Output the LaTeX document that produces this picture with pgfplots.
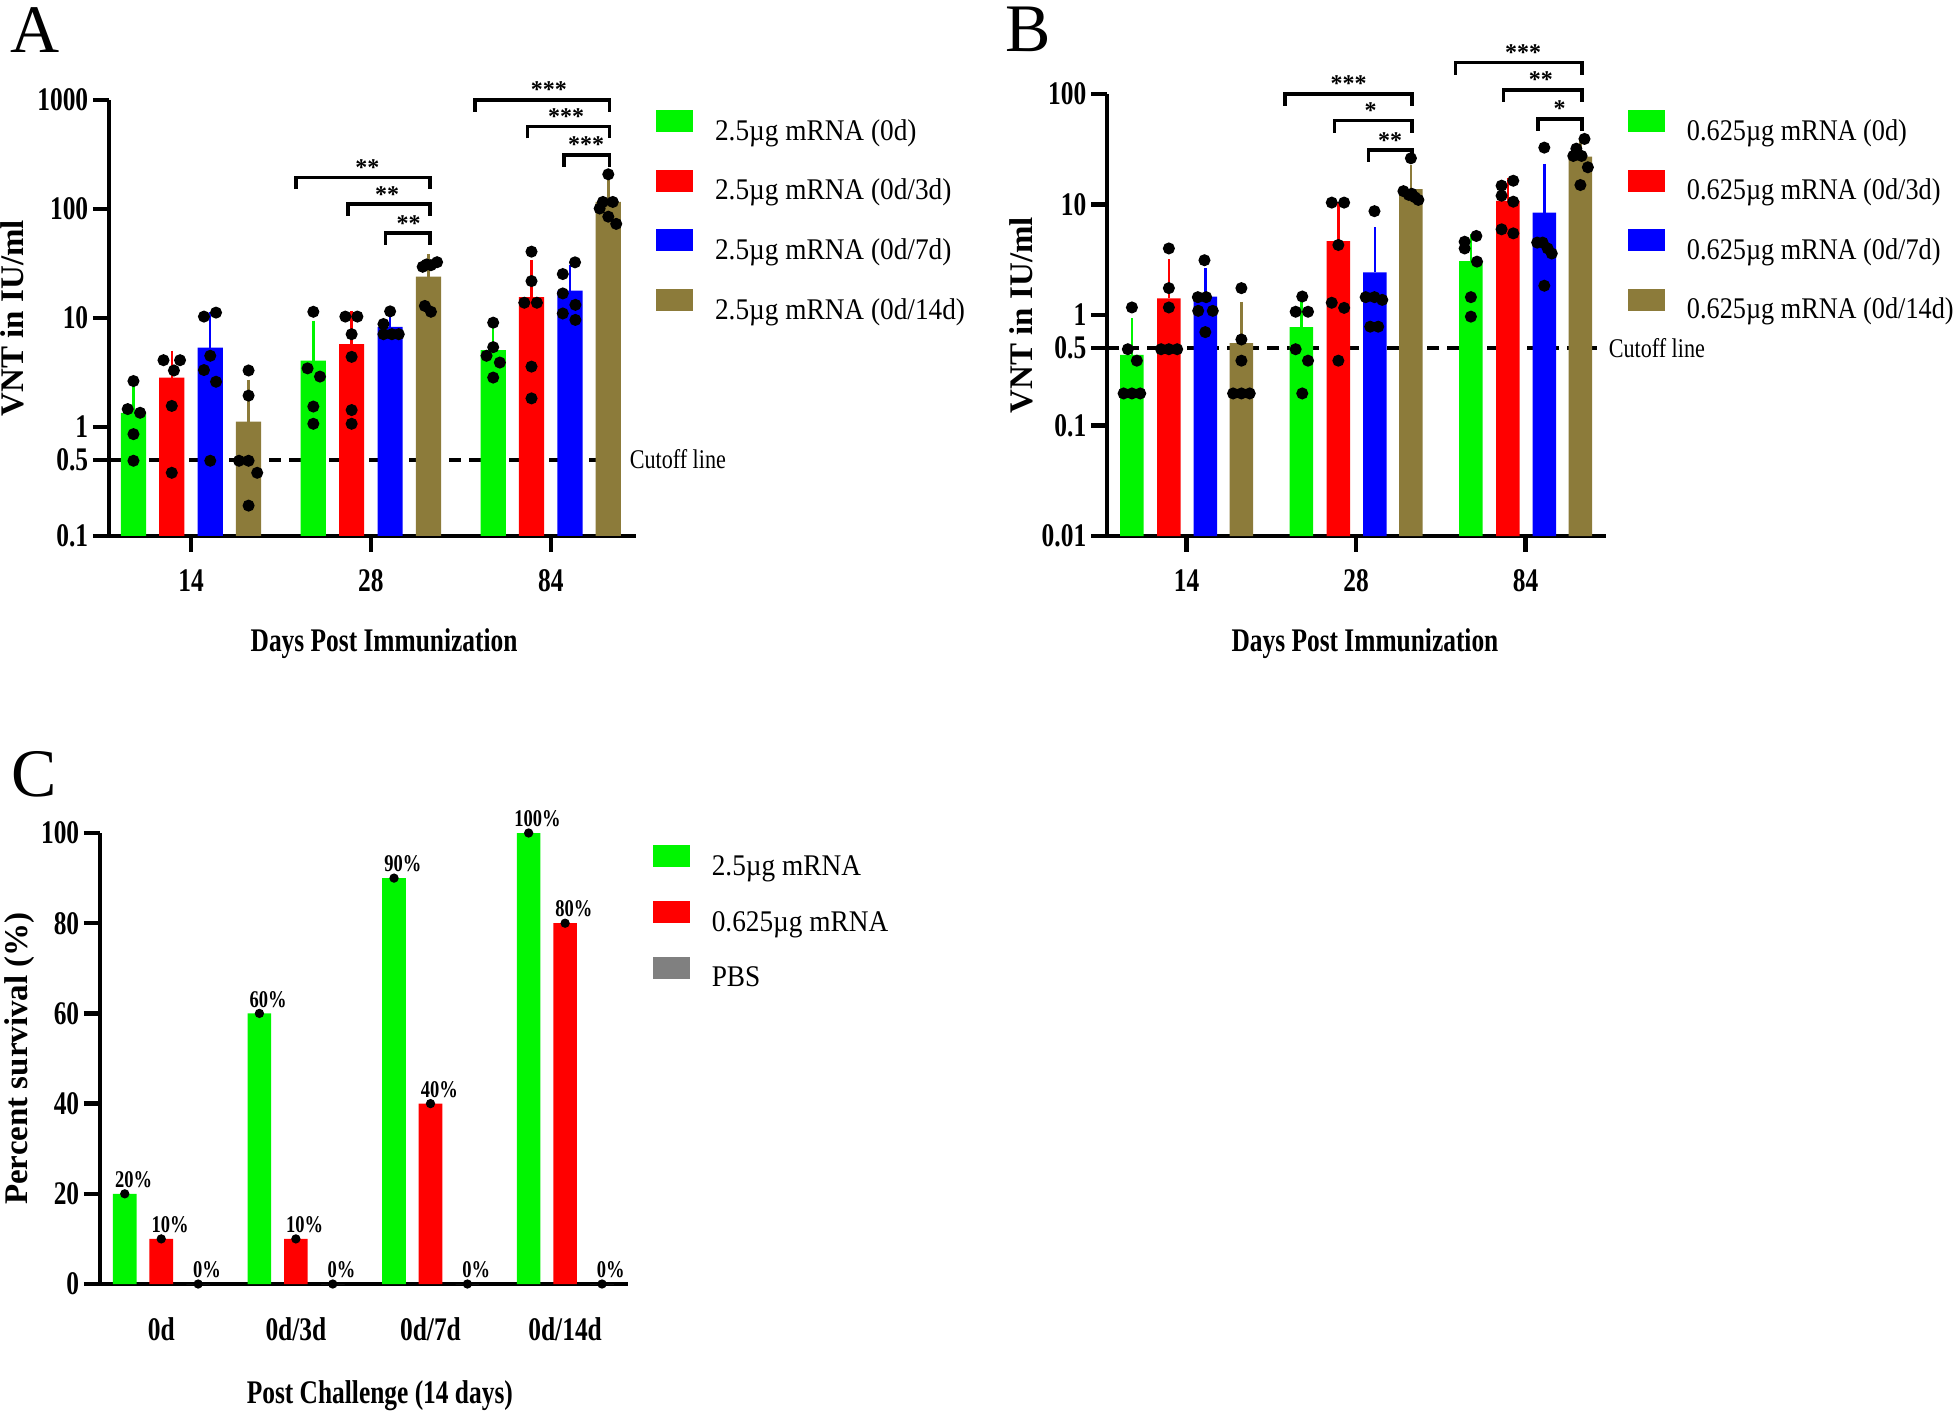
\documentclass[border=0pt]{standalone}
\usepackage{fontspec}
\setmainfont{Liberation Serif}
\newfontfamily\condfont{Liberation Serif}[FakeStretch=0.77]
\newfontfamily\legfont{Liberation Serif}[FakeStretch=0.91]
\newfontfamily\legfontB{Liberation Serif}[FakeStretch=0.875]
\newfontfamily\cutfont{Liberation Serif}[FakeStretch=0.82]
\usepackage{pgfplots}
\pgfplotsset{compat=1.18}
\definecolor{cgreen}{RGB}{0,245,0}
\definecolor{cred}{RGB}{255,0,0}
\definecolor{cblue}{RGB}{0,0,255}
\definecolor{cbrown}{RGB}{140,123,58}
\definecolor{cgray}{RGB}{128,128,128}
\newcommand\tickfont{\condfont\bfseries\fontsize{8.25pt}{9pt}\selectfont}
\newcommand\labfont{\condfont\bfseries\fontsize{8.25pt}{9pt}\selectfont}
\newcommand\ylabfont{\bfseries\fontsize{8.25pt}{9pt}\selectfont}
\newcommand\legendfont{\legfont\fontsize{7.5pt}{8.5pt}\selectfont}
\newcommand\legendfontB{\legfontB\fontsize{7.5pt}{8.5pt}\selectfont}
\newcommand\cutofffont{\cutfont\fontsize{6.75pt}{7.5pt}\selectfont}
\newcommand\starfont{\bfseries\fontsize{6pt}{7pt}\selectfont}
\newcommand\pctfont{\condfont\bfseries\fontsize{6pt}{7pt}\selectfont}
\newcommand\panelfont{\fontsize{17pt}{19pt}\selectfont}
\pgfplotsset{
  myaxis/.style={
    scale only axis, anchor=south west,
    axis x line*=bottom, axis y line*=left,
    axis line style={line width=1.1pt},
    tick style={line width=1.1pt, black},
    major tick length=4pt,
    tick align=outside,
    xminorticks=false, yminorticks=false,
    ticklabel style={font=\tickfont},
    yticklabel style={inner sep=1pt},
    xticklabel style={anchor=north, inner sep=0pt, yshift=-4.25pt},
    clip=false,
    legend cell align=left,
    legend style={draw=none, fill=none, font=\legendfont, inner sep=0pt, outer sep=0pt,
      nodes={inner sep=0pt, text height=5.6pt, text depth=2pt},
      /tikz/every odd column/.append style={column sep=5.5pt},
      row sep=5.35pt, anchor=north west},
  },
  barbase/.style={ybar, bar shift=0pt, draw=none, fill=#1,
    legend image code/.code={\fill[#1] (0pt,0.25pt) rectangle (9.25pt,5.75pt);}},
  mybar/.style={barbase=#1,
    error bars/y dir=plus, error bars/y explicit,
    error bars/error bar style={line width=0.6pt, draw=#1},
    error bars/error mark=-,
    error bars/error mark options={line width=0.6pt, draw=#1, mark size=1.55pt}},
  dots/.style={only marks, mark=*, mark size=1.3pt, black, forget plot},
  bracket/.style={black, line width=0.9pt, forget plot, mark=none},
  cutoff/.style={black, line width=1.05pt, dash pattern=on 3pt off 2pt, forget plot, mark=none},
}
\begin{document}
\begin{tikzpicture}
\path[use as bounding box] (0,0) rectangle (490pt,353.75pt);

%================ Panel A
\begin{axis}[myaxis, at={(27.25pt,219.75pt)}, width=131.75pt, height=109pt,
  ymode=log, ymin=0.1, ymax=1000, log origin=infty,
  xmin=-0.456, xmax=2.474, bar width=0.14,
  ytick={0.1,0.5,1,10,100,1000},
  yticklabels={\mbox{0.1},\mbox{0.5},\mbox{1},\mbox{10},\mbox{100},\mbox{1000}},
  xtick={0,1,2}, xticklabels={\mbox{14},\mbox{28},\mbox{84}},
  xlabel={Days Post Immunization},
  xlabel style={font=\labfont, at={(axis description cs:0.522,-0.266)}, anchor=base},
  ylabel={VNT in IU/ml},
  ylabel style={font=\ylabfont, at={(axis description cs:-0.163,0.5)}, anchor=base},
  legend style={at={(1.038,0.9766)}},
]
\addplot[cutoff] coordinates {(-0.456,0.5) (2.42,0.5)};
\addplot[mybar=cgreen] coordinates {(-0.32,1.35) +- (0,0.8) (0.68,4.06) +- (0,4.24) (1.68,5.08) +- (0,2.42)};
\addlegendentry{2.5µg mRNA (0d)}
\addplot[mybar=cred] coordinates {(-0.107,2.84) +- (0,1.56) (0.893,5.77) +- (0,4.33) (1.893,15.5) +- (0,14.5)};
\addlegendentry{2.5µg mRNA (0d/3d)}
\addplot[mybar=cblue] coordinates {(0.107,5.35) +- (0,4.65) (1.107,8.3) +- (0,1.8) (2.107,17.8) +- (0,9.2)};
\addlegendentry{2.5µg mRNA (0d/7d)}
\addplot[mybar=cbrown] coordinates {(0.32,1.12) +- (0,1.26) (1.32,23.9) +- (0,9.9) (2.32,116) +- (0,50)};
\addlegendentry{2.5µg mRNA (0d/14d)}
% dots
\addplot[dots] coordinates {(-0.32,2.64) (-0.352,1.46) (-0.283,1.35) (-0.32,0.86) (-0.32,0.49)
  (0.68,11.4) (0.648,3.45) (0.717,2.9) (0.68,1.54) (0.68,1.07)
  (1.68,9.06) (1.68,5.4) (1.643,4.5) (1.717,3.9) (1.68,2.84)};
\addplot[dots] coordinates {(-0.153,4.1) (-0.061,4.1) (-0.095,3.3) (-0.107,1.56) (-0.107,0.38)
  (0.858,10.3) (0.925,10.3) (0.893,7.1) (0.893,4.4) (0.893,1.43) (0.893,1.07)
  (1.893,40.6) (1.893,21.8) (1.853,13.8) (1.923,13.8) (1.893,3.58) (1.893,1.83)};
\addplot[dots] coordinates {(0.072,10.3) (0.139,11.2) (0.107,4.5) (0.072,3.33) (0.139,2.6) (0.107,0.49)
  (1.107,11.5) (1.07,8.8) (1.07,7.1) (1.117,7.1) (1.155,7.1)
  (2.135,32.4) (2.067,25.3) (2.067,16.8) (2.137,13.2) (2.067,11) (2.137,9.6)};
\addplot[dots] coordinates {(0.32,3.3) (0.32,1.94) (0.267,0.49) (0.32,0.49) (0.368,0.38) (0.32,0.19)
  (1.288,29.5) (1.334,30.5) (1.368,32.5) (1.31,31) (1.30,12.9) (1.334,11.4)
  (2.32,208) (2.29,116) (2.345,116) (2.272,101) (2.32,85) (2.364,73)};
% brackets
\addplot[bracket] coordinates {(0.585,152.3) (0.585,195) (1.327,195) (1.327,152.3)};
\addplot[bracket] coordinates {(0.873,86.7) (0.873,111) (1.327,111) (1.327,86.7)};
\addplot[bracket] coordinates {(1.081,46.9) (1.081,60) (1.327,60) (1.327,46.9)};
\addplot[bracket] coordinates {(1.58,781) (1.58,1000) (2.327,1000) (2.327,781)};
\addplot[bracket] coordinates {(1.871,444.5) (1.871,569) (2.327,569) (2.327,444.5)};
\addplot[bracket] coordinates {(2.074,244.5) (2.074,313) (2.327,313) (2.327,244.5)};
\node[font=\starfont, anchor=base, inner sep=0pt, yshift=0.5pt] at (axis cs:0.98,195) {**};
\node[font=\starfont, anchor=base, inner sep=0pt, yshift=0.5pt] at (axis cs:1.09,111) {**};
\node[font=\starfont, anchor=base, inner sep=0pt, yshift=0.5pt] at (axis cs:1.21,60) {**};
\node[font=\starfont, anchor=base, inner sep=0pt, yshift=0.5pt] at (axis cs:1.99,1000) {***};
\node[font=\starfont, anchor=base, inner sep=0pt, yshift=0.5pt] at (axis cs:2.085,569) {***};
\node[font=\starfont, anchor=base, inner sep=0pt, yshift=0.5pt] at (axis cs:2.196,313) {***};
\node[font=\cutofffont, anchor=base west, inner sep=0pt, xshift=-1.75pt, yshift=-2.2pt] at (axis cs:2.474,0.5) {Cutoff line};
\node[font=\panelfont, anchor=base west, inner sep=0pt] at (axis description cs:-0.188,1.110) {A};
\end{axis}

%================ Panel B
\begin{axis}[myaxis, at={(276.75pt,219.75pt)}, width=124.75pt, height=110.5pt,
  ymode=log, ymin=0.01, ymax=100, log origin=infty,
  xmin=-0.47, xmax=2.474, bar width=0.139,
  ytick={0.01,0.1,0.5,1,10,100},
  yticklabels={\mbox{0.01},\mbox{0.1},\mbox{0.5},\mbox{1},\mbox{10},\mbox{100}},
  xtick={0,1,2}, xticklabels={\mbox{14},\mbox{28},\mbox{84}},
  xlabel={Days Post Immunization},
  xlabel style={font=\labfont, at={(axis description cs:0.517,-0.2624)}, anchor=base},
  ylabel={VNT in IU/ml},
  ylabel style={font=\ylabfont, at={(axis description cs:-0.150,0.5)}, anchor=base},
  legend style={at={(1.044,0.9638)}, font=\legendfontB},
]
\addplot[cutoff] coordinates {(-0.47,0.5) (2.42,0.5)};
\addplot[mybar=cgreen] coordinates {(-0.323,0.435) +- (0,0.39) (0.677,0.778) +- (0,0.51) (1.677,3.08) +- (0,1.63)};
\addlegendentry{0.625µg mRNA (0d)}
\addplot[mybar=cred] coordinates {(-0.105,1.41) +- (0,1.41) (0.895,4.65) +- (0,4.65) (1.895,10.8) +- (0,4.5)};
\addlegendentry{0.625µg mRNA (0d/3d)}
\addplot[mybar=cblue] coordinates {(0.11,1.47) +- (0,0.86) (1.11,2.43) +- (0,3.05) (2.11,8.43) +- (0,12.1)};
\addlegendentry{0.625µg mRNA (0d/7d)}
\addplot[mybar=cbrown] coordinates {(0.323,0.555) +- (0,0.6) (1.323,13.8) +- (0,6.3) (2.323,27.1) +- (0,8.7)};
\addlegendentry{0.625µg mRNA (0d/14d)}
\addplot[dots] coordinates {(-0.323,1.17) (-0.347,0.49) (-0.294,0.386) (-0.372,0.195) (-0.323,0.195) (-0.274,0.195)
  (0.682,1.47) (0.643,1.07) (0.716,1.07) (0.643,0.49) (0.716,0.386) (0.682,0.195)
  (1.64,4.6) (1.709,5.19) (1.713,3.04) (1.677,1.45) (1.677,0.966) (1.64,4.0)};
\addplot[dots] coordinates {(-0.105,4.0) (-0.105,1.75) (-0.105,1.17) (-0.151,0.49) (-0.105,0.49) (-0.056,0.49)
  (0.856,10.4) (0.929,10.4) (0.895,4.3) (0.856,1.29) (0.929,1.16) (0.895,0.386)
  (1.858,14.8) (1.927,16.4) (1.858,12) (1.927,10.6) (1.858,5.96) (1.927,5.48)};
\addplot[dots] coordinates {(0.105,3.13) (0.066,1.45) (0.115,1.45) (0.154,1.09) (0.068,1.09) (0.11,0.70)
  (1.108,8.7) (1.056,1.45) (1.108,1.45) (1.154,1.37) (1.083,0.784) (1.13,0.784)
  (2.11,32.7) (2.068,4.52) (2.10,4.52) (2.13,4.0) (2.154,3.6) (2.11,1.84)};
\addplot[dots] coordinates {(0.323,1.75) (0.323,0.6) (0.323,0.386) (0.274,0.195) (0.323,0.195) (0.372,0.195)
  (1.323,26.2) (1.279,13.2) (1.311,12.2) (1.347,11.6) (1.367,11) (1.328,12.5)
  (2.347,39.2) (2.299,32) (2.281,27.5) (2.33,27.5) (2.367,21.7) (2.323,15)};
\addplot[bracket] coordinates {(0.58,78.1) (0.58,100) (1.33,100) (1.33,78.1)};
\addplot[bracket] coordinates {(0.873,44.8) (0.873,57.4) (1.33,57.4) (1.33,44.8)};
\addplot[bracket] coordinates {(1.073,24.3) (1.073,31.1) (1.33,31.1) (1.33,24.3)};
\addplot[bracket] coordinates {(1.587,150) (1.587,192) (2.332,192) (2.332,150)};
\addplot[bracket] coordinates {(1.87,84.9) (1.87,108.7) (2.332,108.7) (2.332,84.9)};
\addplot[bracket] coordinates {(2.073,46.4) (2.073,59.4) (2.332,59.4) (2.332,46.4)};
\node[font=\starfont, anchor=base, inner sep=0pt, yshift=0.5pt] at (axis cs:0.956,100) {***};
\node[font=\starfont, anchor=base, inner sep=0pt, yshift=0.5pt] at (axis cs:1.086,57.4) {*};
\node[font=\starfont, anchor=base, inner sep=0pt, yshift=0.5pt] at (axis cs:1.2,31.1) {**};
\node[font=\starfont, anchor=base, inner sep=0pt, yshift=0.5pt] at (axis cs:1.985,192) {***};
\node[font=\starfont, anchor=base, inner sep=0pt, yshift=0.5pt] at (axis cs:2.09,108.7) {**};
\node[font=\starfont, anchor=base, inner sep=0pt, yshift=0.5pt] at (axis cs:2.2,59.4) {*};
\node[font=\cutofffont, anchor=base west, inner sep=0pt, xshift=0.5pt, yshift=-2.2pt] at (axis cs:2.474,0.5) {Cutoff line};
\node[font=\panelfont, anchor=base west, inner sep=0pt] at (axis description cs:-0.206,1.095) {B};
\end{axis}

%================ Panel C
\begin{axis}[myaxis, at={(25pt,32.75pt)}, width=132pt, height=112.75pt,
  ymin=0, ymax=100, xmin=-0.455, xmax=3.467, bar width=0.176,
  ytick={0,20,40,60,80,100},
  yticklabels={\mbox{0},\mbox{20},\mbox{40},\mbox{60},\mbox{80},\mbox{100}},
  xtick={0,1,2,3}, xticklabels={\mbox{0d},\mbox{0d/3d},\mbox{0d/7d},\mbox{0d/14d}},
  xtick style={draw=none},
  xlabel={Post Challenge (14 days)},
  xlabel style={font=\labfont, at={(axis description cs:0.530,-0.2639)}, anchor=base},
  ylabel={Percent survival (\%)},
  ylabel style={font=\ylabfont, at={(axis description cs:-0.138,0.5)}, anchor=base},
  legend style={at={(1.047,0.9723)}, row sep=4.35pt},
]
\addplot[barbase=cgreen] coordinates {(-0.271,20) (0.729,60) (1.729,90) (2.729,100)};
\addlegendentry{2.5µg mRNA}
\addplot[barbase=cred] coordinates {(0,10) (1,10) (2,40) (3,80)};
\addlegendentry{0.625µg mRNA}
\addplot[barbase=cgray] coordinates {(0.274,0) (1.274,0) (2.274,0) (3.274,0)};
\addlegendentry{PBS}
\addplot[only marks, mark=*, mark size=0.95pt, black, forget plot,
  point meta=explicit symbolic, nodes near coords={\pgfplotspointmeta},
  nodes near coords style={font=\pctfont, anchor=base, inner sep=0pt, xshift=2.2pt, yshift=1.6pt}]
  coordinates {(-0.271,20) [20\%] (0.729,60) [60\%] (1.729,90) [90\%] (2.729,100) [100\%]
               (0,10) [10\%] (1,10) [10\%] (2,40) [40\%] (3,80) [80\%]
               (0.274,0) [0\%] (1.274,0) [0\%] (2.274,0) [0\%] (3.274,0) [0\%]};
\node[font=\panelfont, anchor=base west, inner sep=0pt] at (axis description cs:-0.170,1.080) {C};
\end{axis}
\end{tikzpicture}
\end{document}
